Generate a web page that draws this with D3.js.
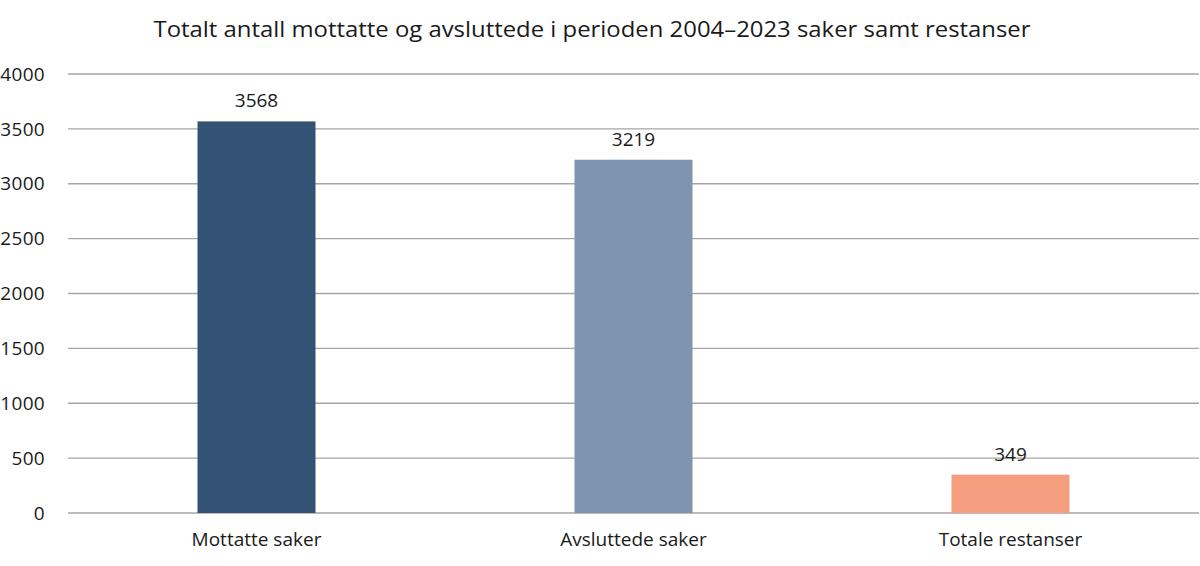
<html>
<head>
<meta charset="utf-8">
<script src="https://cdn.jsdelivr.net/npm/d3@7"></script>
<style>
  body { margin: 0; background: #fff; }
  text { font-family: "Open Sans", sans-serif; fill: #1a1a1a; }
</style>
</head>
<body>
<div id="chart"></div>
<script>
const categories = ["Mottatte saker", "Avsluttede saker", "Totale restanser"];
const values = [3568, 3219, 349];
const colors = ["#345273", "#7f94b0", "#f59e7f"];
const yTicks = [0, 500, 1000, 1500, 2000, 2500, 3000, 3500, 4000];
const title = "Totalt antall mottatte og avsluttede i perioden 2004–2023 saker samt restanser";

const width = 1200, height = 566;
const margin = {top: 74, right: 1, bottom: 53, left: 68};

const svg = d3.select("#chart").append("svg")
    .attr("width", width)
    .attr("height", height);

const x = d3.scaleBand()
    .domain(categories)
    .range([margin.left, width - margin.right])
    .paddingInner(0.687)
    .paddingOuter(0.3435);

const y = d3.scaleLinear()
    .domain([0, 4000])
    .range([height - margin.bottom, margin.top]);

// gridlines
svg.append("g")
    .selectAll("line")
    .data(yTicks)
    .join("line")
    .attr("x1", margin.left)
    .attr("x2", width - margin.right)
    .attr("y1", d => y(d))
    .attr("y2", d => y(d))
    .attr("stroke", "#a6a6a6")
    .attr("stroke-width", 1.3);

// y tick labels
svg.append("g")
    .selectAll("text")
    .data(yTicks)
    .join("text")
    .attr("x", 45)
    .attr("y", d => y(d))
    .attr("dy", "0.35em")
    .attr("text-anchor", "end")
    .attr("font-size", 19)
    .attr("letter-spacing", 0.3)
    .text(d => d);

// bars
svg.append("g")
    .selectAll("rect")
    .data(values)
    .join("rect")
    .attr("x", (d, i) => x(categories[i]))
    .attr("width", x.bandwidth())
    .attr("y", d => y(d))
    .attr("height", d => y(0) - y(d))
    .attr("fill", (d, i) => colors[i]);

// value labels
svg.append("g")
    .selectAll("text")
    .data(values)
    .join("text")
    .attr("x", (d, i) => x(categories[i]) + x.bandwidth() / 2)
    .attr("y", d => y(d) - 14)
    .attr("text-anchor", "middle")
    .attr("font-size", 19)
    .text(d => d);

// category labels
svg.append("g")
    .selectAll("text")
    .data(categories)
    .join("text")
    .attr("x", d => x(d) + x.bandwidth() / 2)
    .attr("y", 546)
    .attr("text-anchor", "middle")
    .attr("font-size", 19)
    .text(d => d);

svg.append("text")
    .attr("x", 592)
    .attr("y", 37)
    .attr("text-anchor", "middle")
    .attr("font-size", 22)
    .attr("textLength", 877)
    .attr("lengthAdjust", "spacingAndGlyphs")
    .text(title);
</script>
</body>
</html>
